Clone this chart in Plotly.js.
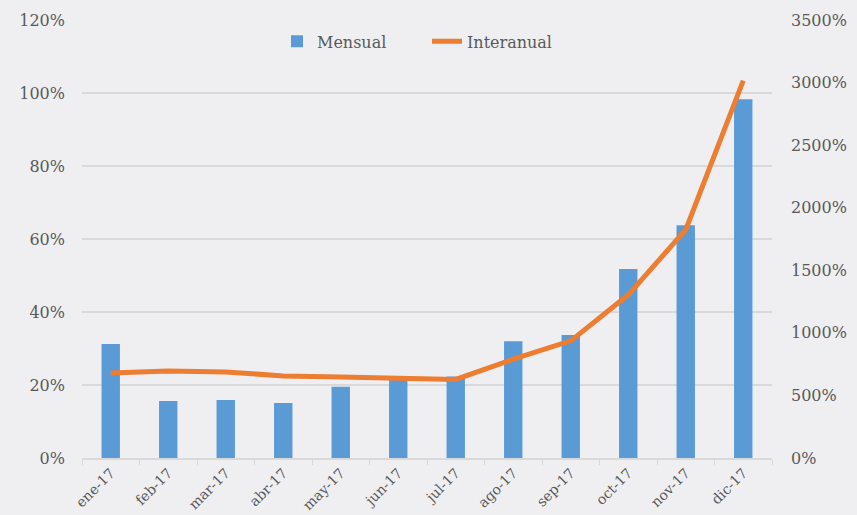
<!DOCTYPE html>
<html><head><meta charset="utf-8">
<script src="https://cdn.plot.ly/plotly-3.0.1.min.js"></script>
<style>html,body{margin:0;padding:0;background:#efeff2;}#c{width:857px;height:515px;}</style>
</head><body><div id="c"></div>
<script>
const categories = ["ene-17","feb-17","mar-17","abr-17","may-17","jun-17","jul-17","ago-17","sep-17","oct-17","nov-17","dic-17"];
const mensual = [31.2, 15.6, 15.9, 15.1, 19.5, 22.3, 22.3, 32, 33.7, 51.8, 63.8, 98.3];
const interanual = [680, 696, 688, 656, 648, 636, 628, 790, 936, 1304, 1824, 3016];
const leftTicks = [0,20,40,60,80,100,120];
const rightTicks = [0,500,1000,1500,2000,2500,3000,3500];

const font = {family:"DejaVu Serif, Liberation Serif, serif", size:15, color:"#595959"};
const data = [
  {type:"bar", x:categories, y:mensual, name:"Mensual", marker:{color:"#5b9bd5"}, width:0.32},
  {type:"scatter", mode:"lines", x:categories, y:interanual, name:"Interanual", yaxis:"y2",
   line:{color:"#ed7d31", width:5}}
];
const layout = {
  width:857, height:515,
  paper_bgcolor:"#efeff2", plot_bgcolor:"#efeff2",
  font:font,
  margin:{l:82, r:85, t:20, b:57},
  showlegend:true,
  legend:{orientation:"h", x:0.5, xanchor:"center", y:0.99, yanchor:"top", entrywidth:105,
    font:{family:font.family,size:16,color:"#595959"}, bgcolor:"rgba(0,0,0,0)"},
  xaxis:{type:"category", tickangle:-45, showline:true, linecolor:"#d9d9d9", linewidth:1.5,
    ticks:"outside", ticklen:5, tickcolor:"#d9d9d9", showgrid:false, tickson:"boundaries",
    tickfont:{size:14, color:"#595959"}},
  yaxis:{range:[0,120], tickvals:leftTicks, ticktext:leftTicks.map(v=>v+"%"), showgrid:true,
    gridcolor:"#d9d9d9", gridwidth:1.5, zeroline:false, ticks:"", ticklabelstandoff:16,
    tickfont:{size:16}},
  yaxis2:{overlaying:"y", side:"right", range:[0,3500], tickvals:rightTicks, ticktext:rightTicks.map(v=>v+"%"),
    showgrid:false, zeroline:false, ticks:"", ticklabelstandoff:18, tickfont:{size:16}},
  bargap:0.68
};
Plotly.newPlot("c", data, layout, {displayModeBar:false, staticPlot:true});
</script></body></html>
